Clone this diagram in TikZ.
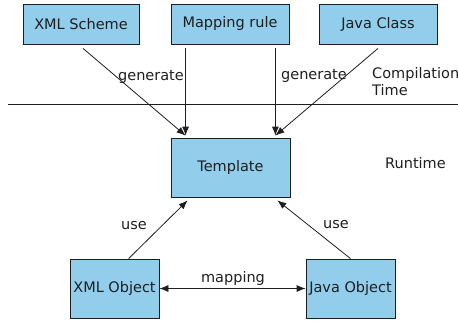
\documentclass[tikz,border=0pt]{standalone}
\usepackage{fontspec}
\setmainfont{DejaVu Sans}
\usetikzlibrary{arrows.meta}
\definecolor{boxblue}{RGB}{146,206,235}
\definecolor{ink}{RGB}{30,30,30}
\begin{document}
\begin{tikzpicture}[x=1pt,y=-1pt,
  font=\fontsize{14.5}{17}\selectfont,
  box/.style={draw=ink,line width=0.8pt,fill=boxblue,text=ink,inner sep=0pt,anchor=center},
  txt/.style={text=ink,inner sep=0pt},
  conn/.style={draw=ink,line width=0.8pt,-{Latex[length=9pt,width=7pt]}},
  plain/.style={draw=ink,line width=0.8pt}]
\useasboundingbox (0,0) rectangle (458,321);
\node[box,minimum width=116pt,minimum height=40pt] (scheme) at (81,24) {XML Scheme};
\node[box,minimum width=118pt,minimum height=40pt] (rule) at (230,24) {Mapping rule};
\node[box,minimum width=118pt,minimum height=40pt] (jclass) at (378,24) {Java Class};
\node[box,minimum width=119pt,minimum height=59pt] (tmpl) at (230.5,167.5) {Template};
\node[box,minimum width=89pt,minimum height=59pt] (xobj) at (114.5,288.5) {XML Object};
\node[box,minimum width=89pt,minimum height=59pt] (jobj) at (350.5,288.5) {Java Object};
% separator line
\coordinate (sepL) at (8,104);
\coordinate (sepR) at (460,104);
\draw[plain] (sepL) -- (sepR);
% connectors
\draw[conn] ([xshift=2pt,yshift=-4pt]scheme.south) -- ([xshift=15pt,yshift=2pt]tmpl.north west);
\draw[conn] ([xshift=15pt,yshift=-4pt]rule.south west) -- ([xshift=15pt,yshift=2pt]tmpl.north west);
\draw[conn] ([xshift=-14pt,yshift=-4pt]rule.south east) -- ([xshift=-15pt,yshift=2pt]tmpl.north east);
\draw[conn] ([xshift=0pt,yshift=-4pt]jclass.south) -- ([xshift=-15pt,yshift=2pt]tmpl.north east);
\draw[conn] ([xshift=59pt]xobj.north west) -- ([xshift=17pt,yshift=-3pt]tmpl.south west);
\draw[conn] (jobj.north) -- ([xshift=-13pt,yshift=-3pt]tmpl.south east);
\draw[plain,{Latex[length=9pt,width=7pt]}-{Latex[length=9pt,width=7pt]}] (xobj.east) -- (jobj.west);
% labels
\node[txt] (gen1) at (151,77) {generate};
\node[txt] (gen2) at (314,76) {generate};
\node[txt,align=left,anchor=north west] (comp) at (372,67) {Compilation\\Time};
\node[txt,anchor=west] (run) at (385,163) {Runtime};
\node[txt] (use1) at (134,226) {use};
\node[txt] (use2) at (336,225) {use};
\node[txt] (map) at (233,278) {mapping};
\end{tikzpicture}
\end{document}
